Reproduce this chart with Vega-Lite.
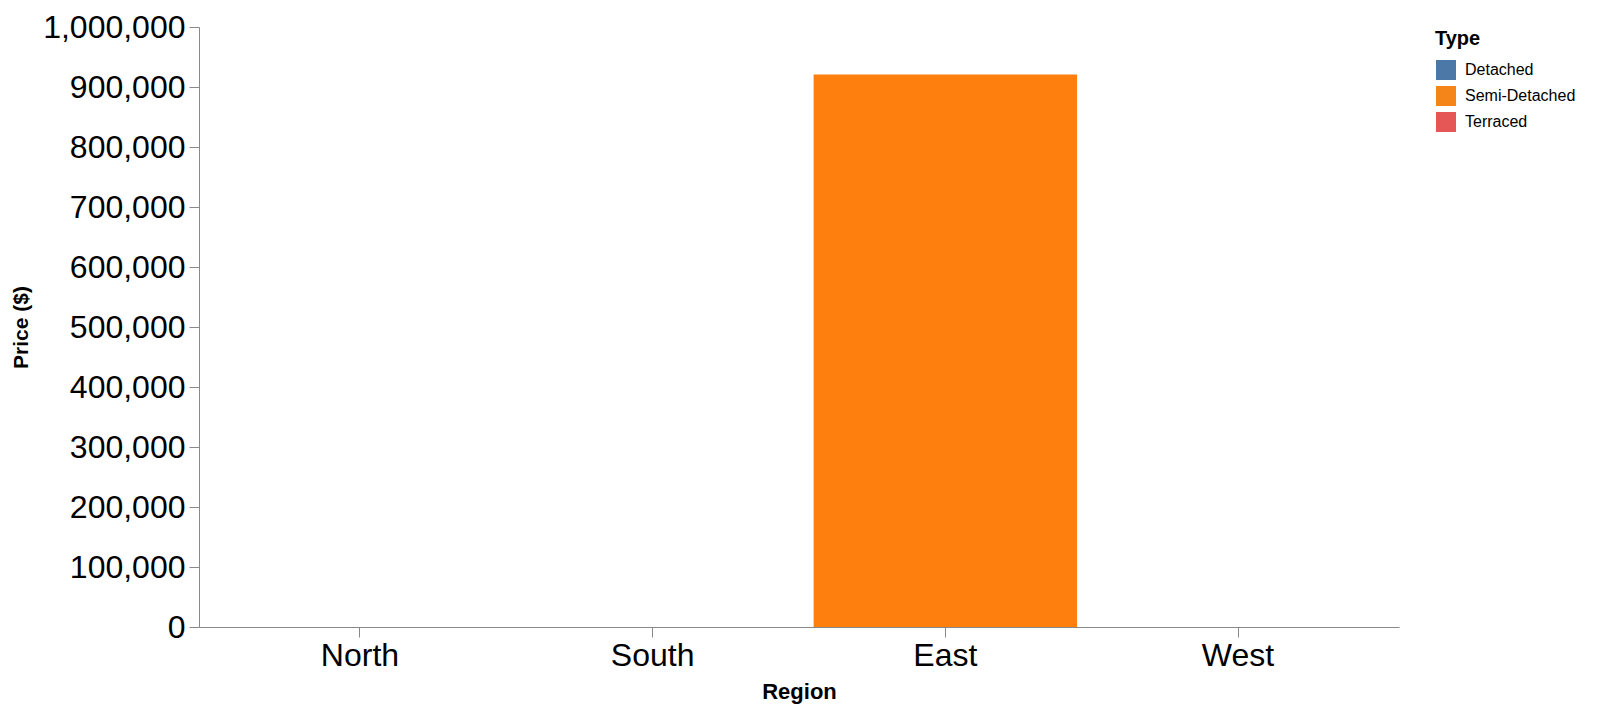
{
  "$schema": "https://vega.github.io/schema/vega-lite/v6.json",
  "width": 1200,
  "height": 600,
  "autosize": "none",
  "padding": {"left": 199, "top": 27, "right": 215, "bottom": 85},
  "config": {"font": "Liberation Sans", "view": {"stroke": null}},
  "data": {
    "values": [
      {"Region": "North", "Type": "Detached", "Price": 0},
      {"Region": "North", "Type": "Semi-Detached", "Price": 0},
      {"Region": "North", "Type": "Terraced", "Price": 0},
      {"Region": "South", "Type": "Detached", "Price": 0},
      {"Region": "South", "Type": "Semi-Detached", "Price": 0},
      {"Region": "South", "Type": "Terraced", "Price": 0},
      {"Region": "East", "Type": "Detached", "Price": 0},
      {"Region": "East", "Type": "Semi-Detached", "Price": 921000},
      {"Region": "East", "Type": "Terraced", "Price": 0},
      {"Region": "West", "Type": "Detached", "Price": 0},
      {"Region": "West", "Type": "Semi-Detached", "Price": 0},
      {"Region": "West", "Type": "Terraced", "Price": 0}
    ]
  },
  "mark": "bar",
  "encoding": {
    "x": {
      "field": "Region",
      "type": "nominal",
      "sort": ["North", "South", "East", "West"],
      "scale": {"paddingInner": 0.1, "paddingOuter": 0.1},
      "axis": {
        "title": "Region",
        "labelAngle": 0,
        "labelFontSize": 32,
        "titleFontSize": 22,
        "tickSize": 10,
        "labelPadding": 3,
        "titlePadding": 10
      }
    },
    "y": {
      "field": "Price",
      "type": "quantitative",
      "scale": {"domain": [0, 1000000]},
      "axis": {
        "title": "Price ($)",
        "grid": false,
        "format": ",.0f",
        "tickCount": 10,
        "labelFontSize": 32,
        "titleFontSize": 21,
        "tickSize": 10,
        "labelPadding": 4,
        "titlePadding": 11
      }
    },
    "color": {
      "field": "Type",
      "type": "nominal",
      "condition": {"test": "datum.Type === 'Semi-Detached'", "value": "#ff7f0e"},
      "scale": {"domain": ["Detached", "Semi-Detached", "Terraced"]},
      "legend": {
        "title": "Type",
        "titleFontSize": 20,
        "labelFontSize": 16,
        "symbolType": "square",
        "symbolSize": 400,
        "rowPadding": 5,
        "offset": 34,
        "padding": 2,
        "titlePadding": 10,
        "labelOffset": 8
      }
    }
  }
}
